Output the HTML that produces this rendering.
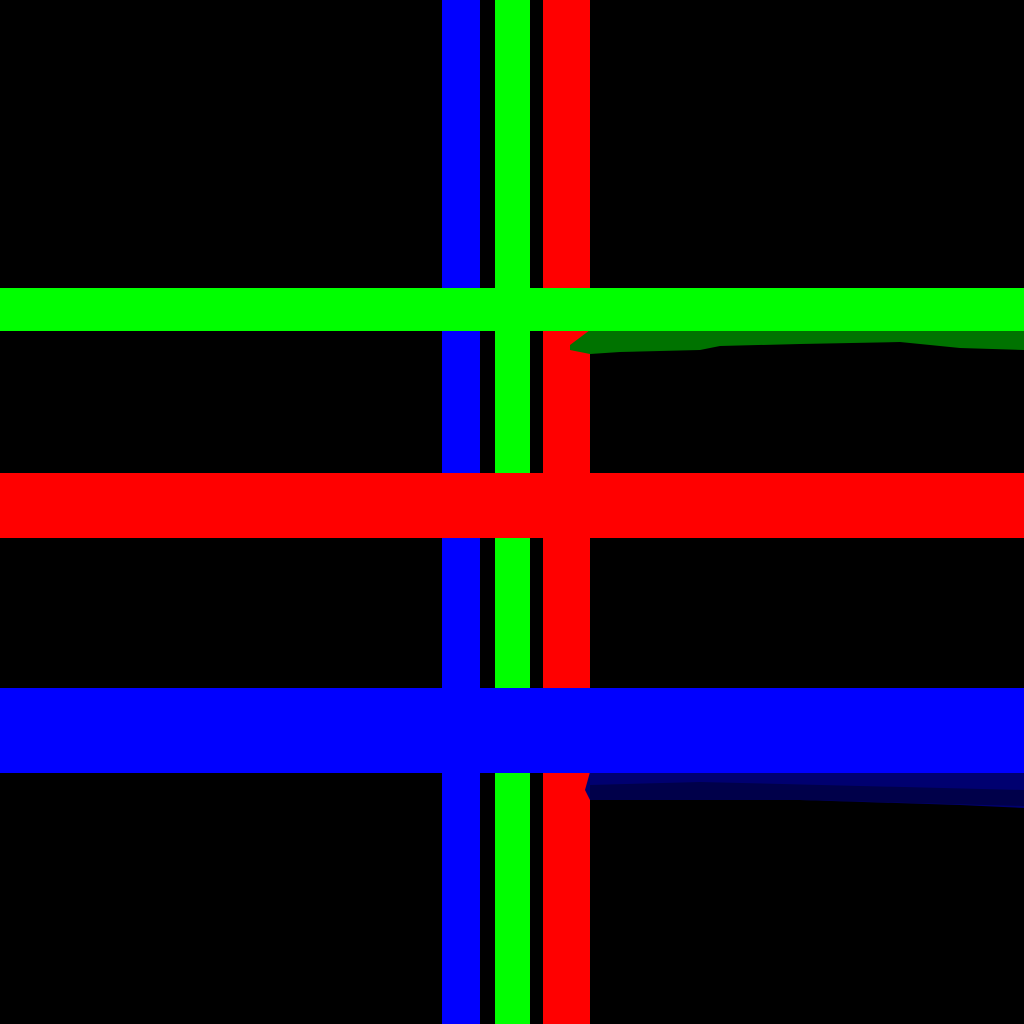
<!DOCTYPE html>
<html><head><meta charset="utf-8"><style>
html,body{margin:0;padding:0;background:#000;width:1024px;height:1024px;overflow:hidden}
svg{display:block}
</style></head><body>
<svg width="1024" height="1024" viewBox="0 0 1024 1024">
<rect x="0" y="0" width="1024" height="1024" fill="#000"/>
<rect x="442" y="0" width="38" height="1024" fill="#0000ff"/>
<rect x="495" y="0" width="35" height="1024" fill="#00ff00"/>
<rect x="543" y="0" width="47" height="1024" fill="#ff0000"/>
<polygon points="570,345 590,330 700,328 800,324 900,327 1024,330 1024,350 960,348 900,342 800,344 720,346 700,350 620,352 590,354 570,350" fill="#007300"/>
<polygon points="585,790 590,772 700,768 800,770 1024,772 1024,808 960,805 800,800 700,798 620,800 590,800" fill="#000070"/>
<polygon points="590,785 700,782 1024,790 1024,806 800,800 700,800 590,800" fill="#00004a"/>
<rect x="0" y="288" width="1024" height="43" fill="#00ff00"/>
<rect x="0" y="473" width="1024" height="65" fill="#ff0000"/>
<rect x="0" y="688" width="1024" height="85" fill="#0000ff"/>
</svg>
</body></html>
